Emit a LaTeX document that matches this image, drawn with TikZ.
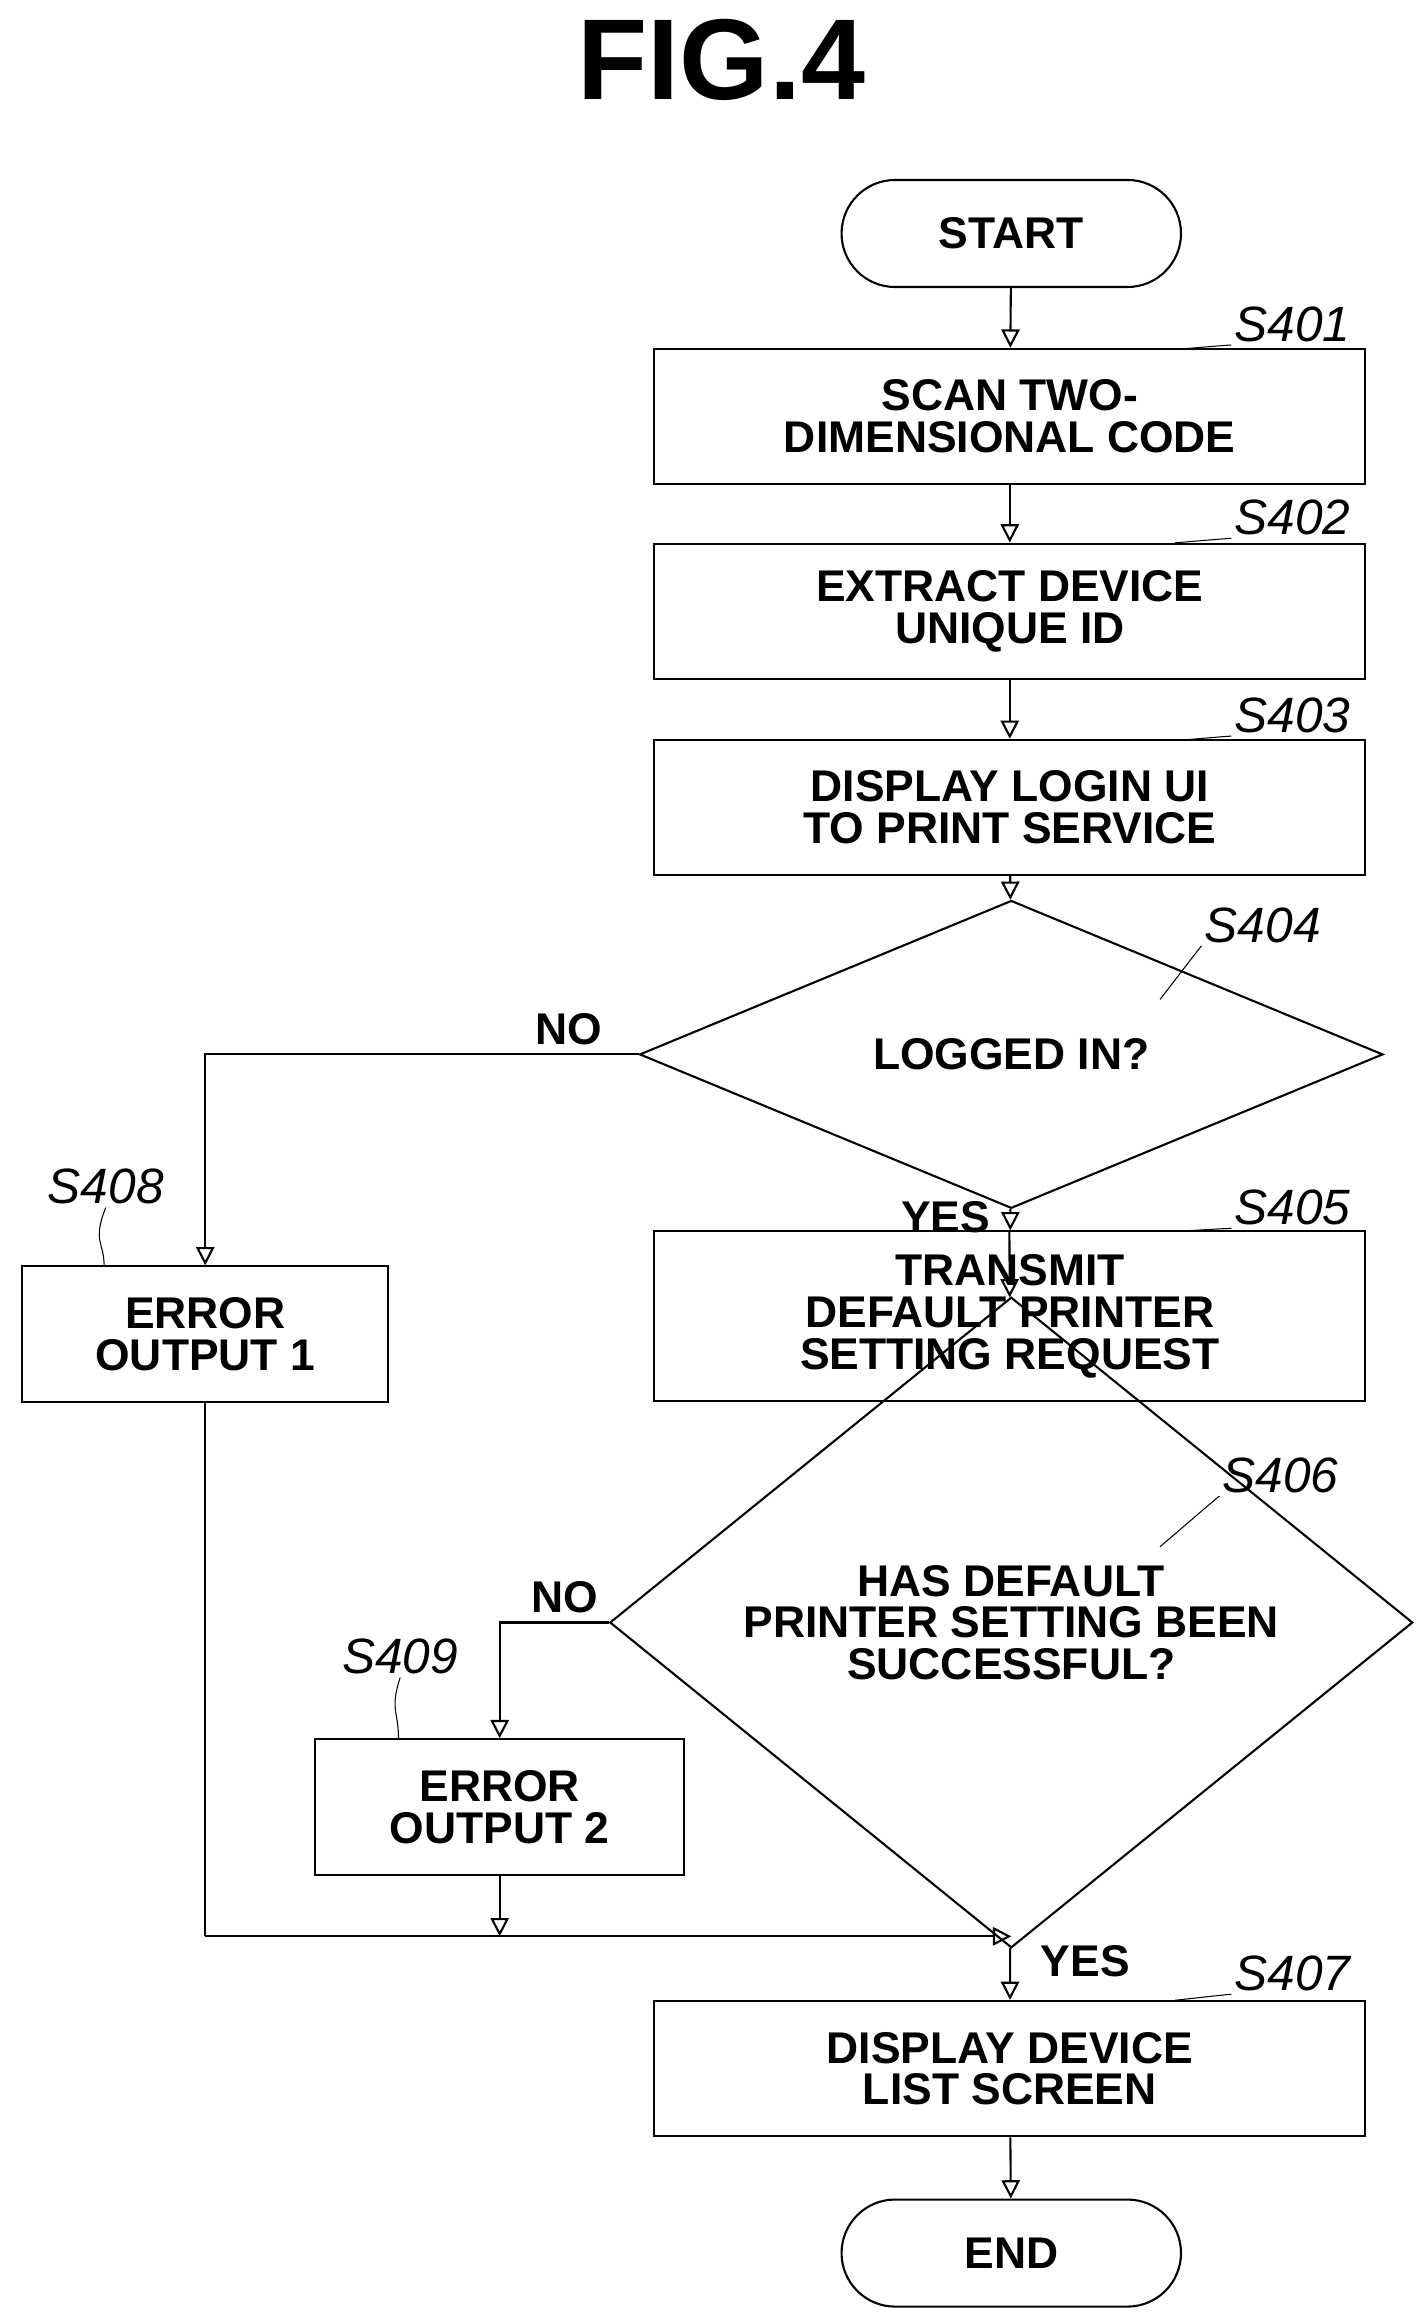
\documentclass[tikz,border=0pt]{standalone}
\usepackage{fontspec}
\setmainfont{Liberation Sans}
\usetikzlibrary{positioning,shapes.geometric,shapes.misc,arrows.meta}
\tikzstyle{block} = [draw, thick, rectangle, minimum height=1.82cm, minimum width=9.56cm, align=center, font=\fontsize{17}{16}\selectfont\bfseries]
\tikzstyle{term} = [draw, thick, rounded rectangle, minimum height=1.44cm, minimum width=4.8cm, font=\fontsize{17}{16}\selectfont\bfseries]
\tikzstyle{steplabel} = [font=\fontsize{19}{19}\selectfont\itshape, anchor=south west, inner sep=1pt]
\tikzstyle{lbl} = [font=\fontsize{17}{16}\selectfont\bfseries]
\tikzset{line/.style={thick, -{Triangle[open,length=7pt,width=7pt]}}}
\newcommand{\leader}[2]{\draw[thin] (#1) .. controls +(0.2,0.05) and +(-0.3,-0.2) .. (#2);}
\begin{document}
\begin{tikzpicture}[x=0.02cm, y=-0.02cm]
    \useasboundingbox (0,0) rectangle (960,1558);
    \node [font=\fontsize{44}{44}\selectfont\bfseries] (title) at (485,40) {FIG.4};

    \node [term] (start) at (680,157) {START};
    \node [block] (s401) at (679,280) {SCAN TWO-\\DIMENSIONAL CODE};
    \node [block] (s402) at (679,411) {EXTRACT DEVICE\\UNIQUE ID};
    \node [block] (s403) at (679,543) {DISPLAY LOGIN UI\\TO PRINT SERVICE};
    \node [draw, thick, diamond, minimum width=10cm, minimum height=3.16cm, inner sep=0pt, lbl] (s404) at (680,709) {LOGGED IN?};
    \node [block, minimum height=2.28cm] (s405) at (679,885) {TRANSMIT\\DEFAULT PRINTER\\SETTING REQUEST};
    \node [draw, thick, diamond, minimum width=10.8cm, minimum height=4.26cm, inner sep=0pt, align=center, lbl] (s406) at (680,1091) {HAS DEFAULT\\PRINTER SETTING BEEN\\SUCCESSFUL?};
    \node [block, minimum width=4.92cm] (s408) at (138,897) {ERROR\\OUTPUT 1};
    \node [block, minimum width=4.96cm] (s409) at (336,1215) {ERROR\\OUTPUT 2};
    \node [block] (s407) at (679,1391) {DISPLAY DEVICE\\LIST SCREEN};
    \node [term] (end) at (680,1515) {END};

    % step labels
    \node [steplabel] (l401) at (828,232) {S401};
    \node [steplabel] (l402) at (828,362) {S402};
    \node [steplabel] (l403) at (828,495) {S403};
    \node [steplabel] (l404) at (808,636) {S404};
    \node [steplabel] (l405) at (828,826) {S405};
    \node [steplabel] (l406) at (820,1006) {S406};
    \node [steplabel] (l408) at (30,812) {S408};
    \node [steplabel] (l409) at (228,1128) {S409};
    \node [steplabel] (l407) at (828,1341) {S407};
    \leader{790,235}{l401.south west}
    \leader{790,365}{l402.south west}
    \leader{790,498}{l403.south west}
    \leader{780,672}{l404.south west}
    \leader{790,828}{l405.south west}
    \leader{780,1040}{l406.south west}
    \draw[thin] (70,851) .. controls (70,835) and (62,835) .. (l408.south);
    \draw[thin] (268,1170) .. controls (268,1150) and (262,1150) .. (l409.south);
    \leader{790,1345}{l407.south west}

    \draw [line] (start) -- (s401);
    \draw [line] (s401) -- (s402);
    \draw [line] (s402) -- (s403);
    \draw [line] (s403) -- (s404);
    \draw [line] (s404) -- node [lbl, pos=0.4, left=4pt] {YES} (s405);
    \draw [line] (s405) -- (s406);
    \draw [line] (s404.west) -| node [lbl, pos=0.08, above] {NO} (s408);
    \draw [line] (s406.west) -| node [lbl, pos=0.2, above] {NO} (s409);
    \draw [line] (s406) -- node [lbl, pos=0.25, right=8pt] {YES} (s407);

    \coordinate (j1) at (138,1302);
    \coordinate (j2) at (680,1302);
    \coordinate (j3) at (336,1302);
    \draw [thick] (s408) -- (j1);
    \draw [line] (j1) -- (j2);
    \draw [line] (s409) -- (j3);
    \draw [line] (s407) -- (end);
\end{tikzpicture}
\end{document}
